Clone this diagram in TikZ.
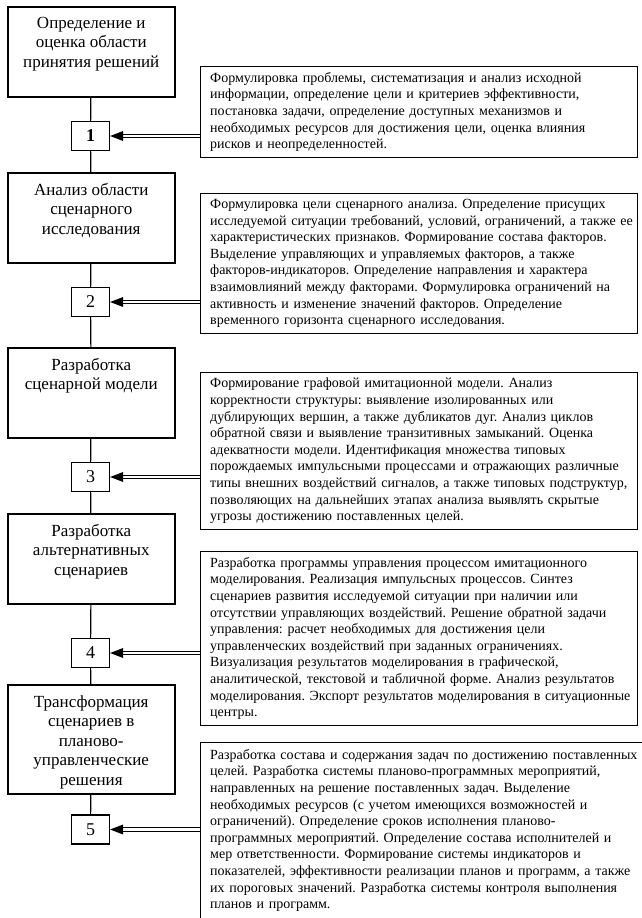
\documentclass[tikz,border=0pt]{standalone}
\usepackage{fontspec}
\setmainfont{Liberation Serif}
\usetikzlibrary{fit}
\frenchspacing
\begin{document}
\begin{tikzpicture}[x=1pt,y=-1pt,
  stage/.style={draw, line width=1.5pt, minimum width=167pt, inner sep=0pt, anchor=north west},
  stagetext/.style={anchor=north, align=center, font=\fontsize{17}{19.5}\selectfont, inner sep=0pt},
  numbox/.style={draw, line width=1.2pt, minimum width=38pt, minimum height=29pt, inner sep=0pt, font=\fontsize{18}{20}\selectfont},
  desctext/.style={anchor=north west, text width=440pt, inner sep=0pt, align=left, font=\fontsize{14}{16.6}\selectfont\frenchspacing},
  descframe/.style={draw, line width=0.9pt, inner sep=0pt},
  link/.style={line width=1.2pt},
  rail/.style={line width=0.9pt},
]
\useasboundingbox (0,0) rectangle (642,918);
\coordinate (r) at (637,0);
\coordinate (r5) at (660,0);

% stage boxes
\node[stage, minimum height=90pt] (a1) at (7,6) {};
\node[stagetext] (t1) at ([yshift=-11pt]a1.north) {Определение и\\оценка области\\принятия решений};
\node[stage, minimum height=90pt] (a2) at (7,172) {};
\node[stagetext] (t2) at ([yshift=-11pt]a2.north) {Анализ области\\сценарного\\исследования};
\node[stage, minimum height=90pt] (a3) at (7,347) {};
\node[stagetext] (t3) at ([yshift=-11pt]a3.north) {Разработка\\сценарной модели};
\node[stage, minimum height=90pt] (a4) at (7,513) {};
\node[stagetext] (t4) at ([yshift=-11pt]a4.north) {Разработка\\альтернативных\\сценариев};
\node[stage, minimum height=109pt] (a5) at (7,684) {};
\node[stagetext] (t5) at ([yshift=-11pt]a5.north) {Трансформация\\сценариев в\\планово-\\управленческие\\решения};

% number boxes
\node[numbox] (n1) at (90.5,136) {\textbf{1}};
\node[numbox] (n2) at (90.5,302) {2};
\node[numbox] (n3) at (90.5,477) {3};
\node[numbox] (n4) at (90.5,653) {4};
\node[numbox] (n5) at (90.5,829.5) {5};

% vertical links
\draw[link] (a1) -- (n1);
\draw[link] (n1) -- (a2);
\draw[link] (a2) -- (n2);
\draw[link] (n2) -- (a3);
\draw[link] (a3) -- (n3);
\draw[link] (n3) -- (a4);
\draw[link] (a4) -- (n4);
\draw[link] (n4) -- (a5);
\draw[link] (a5) -- (n5);

% description texts
\node[desctext] (d1) at (210,72) {Формулировка проблемы, систематизация и анализ исходной\\
информации, определение цели и критериев эффективности,\\
постановка задачи, определение доступных механизмов и\\
необходимых ресурсов для достижения цели, оценка влияния\\
рисков и неопределенностей.};

\node[desctext] (d2) at (210,199) {Формулировка цели сценарного анализа. Определение присущих\\
исследуемой ситуации требований, условий, ограничений, а также ее\\
характеристических признаков. Формирование состава факторов.\\
Выделение управляющих и управляемых факторов, а также\\
факторов-индикаторов. Определение направления и характера\\
взаимовлияний между факторами. Формулировка ограничений на\\
активность и изменение значений факторов. Определение\\
временного горизонта сценарного исследования.};

\node[desctext] (d3) at (210,378) {Формирование графовой имитационной модели. Анализ\\
корректности структуры: выявление изолированных или\\
дублирующих вершин, а также дубликатов дуг. Анализ циклов\\
обратной связи и выявление транзитивных замыканий. Оценка\\
адекватности модели. Идентификация множества типовых\\
порождаемых импульсными процессами и отражающих различные\\
типы внешних воздействий сигналов, а также типовых подструктур,\\
позволяющих на дальнейших этапах анализа выявлять скрытые\\
угрозы достижению поставленных целей.};

\node[desctext] (d4) at (210,557) {Разработка программы управления процессом имитационного\\
моделирования. Реализация импульсных процессов. Синтез\\
сценариев развития исследуемой ситуации при наличии или\\
отсутствии управляющих воздействий. Решение обратной задачи\\
управления: расчет необходимых для достижения цели\\
управленческих воздействий при заданных ограничениях.\\
Визуализация результатов моделирования в графической,\\
аналитической, текстовой и табличной форме. Анализ результатов\\
моделирования. Экспорт результатов моделирования в ситуационные\\
центры.};

\node[desctext] (d5) at (210,749) {Разработка состава и содержания задач по достижению поставленных\\
целей. Разработка системы планово-программных мероприятий,\\
направленных на решение поставленных задач. Выделение\\
необходимых ресурсов (с учетом имеющихся возможностей и\\
ограничений). Определение сроков исполнения планово-\\
программных мероприятий. Определение состава исполнителей и\\
мер ответственности. Формирование системы индикаторов и\\
показателей, эффективности реализации планов и программ, а также\\
их пороговых значений. Разработка системы контроля выполнения\\
планов и программ.};

% description frames
\coordinate (tl1) at (200,66);
\coordinate (tl2) at (200,193);
\coordinate (tl3) at (200,372);
\coordinate (tl4) at (200,551);
\coordinate (tl5) at (200,742);
\foreach \i in {1,...,4} {
  \coordinate (br\i) at ([yshift=-6pt]d\i.south -| r);
  \node[descframe, fit=(tl\i)(br\i)] (f\i) {};
}
\coordinate (br5) at ([yshift=-30pt]d5.south -| r5);
\node[descframe, fit=(tl5)(br5)] (f5) {};

% double arrows from descriptions to number boxes
\foreach \i in {1,...,5} {
  \coordinate (s\i) at (f\i.west |- n\i.east);
  \draw[rail] ([yshift=1.6pt]s\i) -- ([xshift=12pt,yshift=1.6pt]n\i.east);
  \draw[rail] ([yshift=-1.6pt]s\i) -- ([xshift=12pt,yshift=-1.6pt]n\i.east);
  \fill (n\i.east) -- ++(13,-5) -- ++(0,10) -- cycle;
}
\end{tikzpicture}
\end{document}
